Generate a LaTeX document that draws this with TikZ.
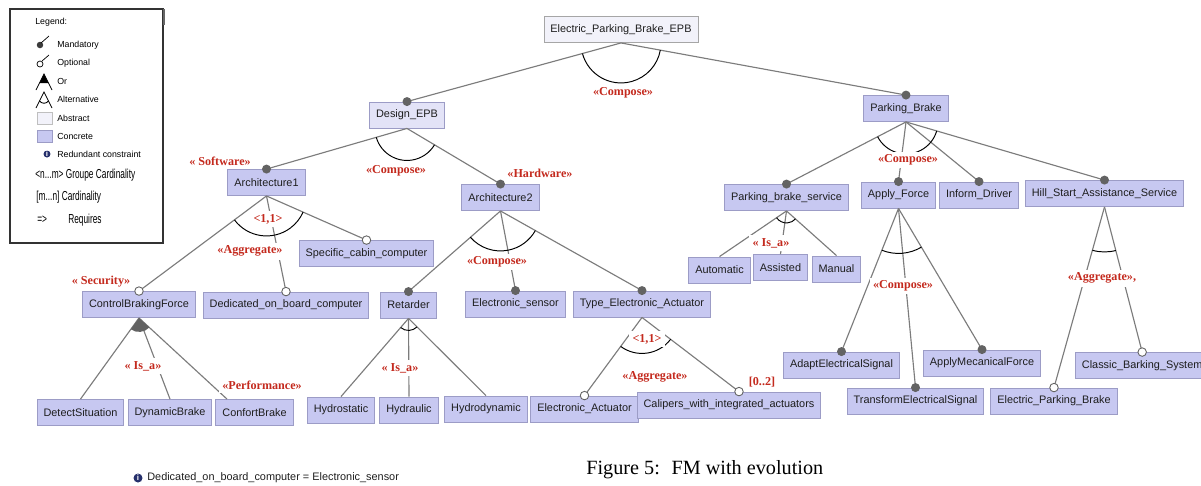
\documentclass[tikz,border=0pt]{standalone}
\usepackage{fontspec}
\setmainfont{Liberation Serif}
\newfontfamily\boxfont{Liberation Sans}
\newfontfamily\narrowfont[FakeStretch=0.64]{Liberation Sans}
\usetikzlibrary{angles}
\definecolor{fmconc}{HTML}{C7C8F1}
\definecolor{fmpale}{HTML}{F2F2FA}
\definecolor{fmlight}{HTML}{E3E3F7}
\definecolor{fmborder}{HTML}{9C9CC6}
\definecolor{fmgray}{HTML}{7C7C7C}
\definecolor{fmdot}{HTML}{636363}
\definecolor{fmred}{HTML}{C42A1E}
\definecolor{fmtext}{HTML}{1E1E1E}
\definecolor{fmnavy}{HTML}{26306C}
\tikzset{
  fmbox/.style    = {rectangle, draw=fmborder, fill=fmconc, line width=0.5pt,
                     minimum height=0.52cm, inner xsep=3.7pt, inner ysep=1pt,
                     font=\boxfont\fontsize{6.2}{7}\selectfont\color{fmtext}},
  fmabs/.style    = {fmbox, fill=fmpale, draw=gray!70},
  fmline/.style   = {draw=fmgray, line width=0.65pt},
  grparc/.style   = {draw=black, line width=0.55pt},
  mandot/.style   = {circle, fill=fmdot, inner sep=0pt, minimum size=0.18cm},
  optdot/.style   = {circle, draw=fmdot, fill=white, line width=0.5pt,
                     inner sep=0pt, minimum size=0.17cm},
  stereo/.style   = {fill=white, inner sep=1.8pt, text=fmred,
                     font=\bfseries\fontsize{6.9}{8}\selectfont},
  lgtext/.style   = {anchor=west, inner sep=0pt, font=\boxfont\fontsize{5}{6}\selectfont},
  lgnarrow/.style = {anchor=west, inner sep=0pt, font=\narrowfont\fontsize{7.4}{8}\selectfont},
  infoicon/.style = {circle, fill=fmnavy, text=white, inner sep=0pt,
                     font=\boxfont\bfseries\fontsize{4.5}{5}\selectfont},
}

\begin{document}
\begin{tikzpicture}[x=0.02cm, y=-0.02cm]
\useasboundingbox (0,0) rectangle (1201,485);

% Legend
\draw[line width=0.6pt, black!80] (10,9) rectangle (163,243);
\draw[line width=1.6pt, black!60] (164,9) -- (164,25);
\node[lgtext] (lgtitle) at (35,22) {Legend:};
\fill[fmdot!60!black] (40,45) circle[radius=0.065cm];
\draw[line width=0.4pt] (41,43) -- (49,36);
\draw[line width=0.4pt] (40,64) circle[radius=0.06cm];
\draw[line width=0.4pt] (42,61) -- (49,55);
\fill (44,74) -- (39.5,83) -- (48.5,83) -- cycle;
\draw[line width=0.5pt] (36,90) -- (44,74) -- (52,90);
\draw[line width=0.5pt] (36,108) -- (44,92) -- (52,108);
\draw[line width=0.5pt] (39.5,101) .. controls (42,104) and (46,104) .. (48.5,101);
\draw[fill=fmpale, draw=gray!50] (37,112) rectangle (52,124);
\draw[fill=fmconc, draw=fmborder] (37,130) rectangle (52,142);
\node[infoicon, minimum size=0.14cm] (lgicon) at (47,154) {i};
\node[lgtext] (lgmand) at (57,45) {Mandatory};
\node[lgtext] (lgopt) at (57,63) {Optional};
\node[lgtext] (lgor) at (57,81) {Or};
\node[lgtext] (lgalt) at (57,99) {Alternative};
\node[lgtext] (lgabs) at (57,118) {Abstract};
\node[lgtext] (lgconc) at (57,136) {Concrete};
\node[lgtext] (lgred) at (57,154) {Redundant constraint};
\node[lgnarrow] (lggrp) at (35,175) {<n...m> Groupe Cardinality};
\node[lgnarrow] (lgcard) at (36,197) {[m...n]\ Cardinality};
\node[lgnarrow] (lgimp) at (37,220) {=>};
\node[lgnarrow] (lgreq) at (68,220) {Requires};

% Feature boxes
\node[fmabs] (root) at (621,29.5) {Electric\_Parking\_Brake\_EPB};
\node[fmbox, fill=fmlight] (design) at (407,115) {Design\_EPB};
\node[fmbox] (pb) at (906,108.5) {Parking\_Brake};
\node[fmbox] (arch1) at (266.5,182.5) {Architecture1};
\node[fmbox] (arch2) at (500.5,197.5) {Architecture2};
\node[fmbox] (pbs) at (786.5,197.5) {Parking\_brake\_service};
\node[fmbox] (af) at (898.5,195) {Apply\_Force};
\node[fmbox] (id) at (979,195) {Inform\_Driver};
\node[fmbox] (hsas) at (1104.5,193.5) {Hill\_Start\_Assistance\_Service};
\node[fmbox] (scc) at (366.5,253.5) {Specific\_cabin\_computer};
\node[fmbox] (cbf) at (139,304.5) {ControlBrakingForce};
\node[fmbox] (dobc) at (286,305) {Dedicated\_on\_board\_computer};
\node[fmbox] (ret) at (408.5,305) {Retarder};
\node[fmbox] (es) at (515.5,304) {Electronic\_sensor};
\node[fmbox] (tea) at (642,304) {Type\_Electronic\_Actuator};
\node[fmbox] (auto) at (719.5,270) {Automatic};
\node[fmbox] (assist) at (780.5,267.5) {Assisted};
\node[fmbox] (manual) at (836.5,269) {Manual};
\node[fmbox] (aes) at (841.5,365) {AdaptElectricalSignal};
\node[fmbox] (amf) at (982,363) {ApplyMecanicalForce};
\node[fmbox] (tes) at (915.5,401) {TransformElectricalSignal};
\node[fmbox, anchor=west] (cbs) at (1075,365.5) {Classic\_Barking\_System};
\node[fmbox] (epbx) at (1054,401) {Electric\_Parking\_Brake};
\node[fmbox] (ds) at (80.5,412.5) {DetectSituation};
\node[fmbox] (db) at (170,412.5) {DynamicBrake};
\node[fmbox] (cb) at (254.5,412.5) {ConfortBrake};
\node[fmbox] (hs) at (341,410) {Hydrostatic};
\node[fmbox] (hyd) at (409,410) {Hydraulic};
\node[fmbox] (hdy) at (486,409) {Hydrodynamic};
\node[fmbox] (ea) at (584.5,409) {Electronic\_Actuator};
\node[fmbox] (cal) at (729,405) {Calipers\_with\_integrated\_actuators};

% End points of the connectors
\foreach \n in {root,design,pb,arch1,arch2,pbs,af,hsas,cbf,ret,tea,
                scc,dobc,es,id,auto,assist,manual,aes,amf,tes,cbs,epbx,
                ds,db,hs,hyd,hdy,ea} {
  \coordinate (n\n) at (\n.north);
  \coordinate (s\n) at (\n.south);
}
\coordinate (cbin) at ([xshift=-0.55cm]cb.north);
\coordinate (calin) at ([xshift=0.2cm]cal.north);

% Tree edges
\foreach \p/\c in {root/design, root/pb, design/arch1, design/arch2,
                   arch1/cbf, arch1/dobc, arch1/scc, arch2/ret, arch2/es, arch2/tea,
                   cbf/ds, cbf/db, ret/hs, ret/hyd, ret/hdy, tea/ea,
                   pb/pbs, pb/af, pb/id, pb/hsas, pbs/auto, pbs/assist, pbs/manual,
                   af/aes, af/tes, af/amf, hsas/epbx, hsas/cbs}
  \draw[fmline] (\p.south) -- (\c.north);
\draw[fmline] (cbf.south) -- (cbin);
\draw[fmline] (tea.south) -- (calin);

% Group arcs
\pic[grparc, angle radius=0.8cm]  {angle=ndesign--sroot--npb};
\pic[grparc, angle radius=0.64cm] {angle=narch1--sdesign--narch2};
\pic[grparc, angle radius=0.8cm]  {angle=ncbf--sarch1--nscc};
\pic[grparc, angle radius=0.8cm]  {angle=nret--sarch2--ntea};
\pic[fill=fmdot, angle radius=0.28cm] {angle=nds--scbf--cbin};
\pic[grparc, angle radius=0.24cm] {angle=nhs--sret--nhdy};
\pic[grparc, angle radius=0.72cm] {angle=nea--stea--calin};
\pic[grparc, angle radius=0.64cm] {angle=npbs--spb--nhsas};
\pic[grparc, angle radius=0.24cm] {angle=nauto--spbs--nmanual};
\pic[grparc, angle radius=0.9cm]  {angle=naes--saf--namf};
\pic[grparc, angle radius=0.9cm]  {angle=nepbx--shsas--ncbs};

% Stereotypes and cardinalities
\node[stereo] (cmproot) at (623,93) {«Compose»};
\node[stereo] (cmpdesign) at (396,171) {«Compose»};
\node[stereo] (sw) at (220,161) {« Software»};
\node[stereo] (hw) at (540,173) {«Hardware»};
\node[stereo] (cardarch) at (268,219) {<1,1>};
\node[stereo] (aggarch) at (250,251) {«Aggregate»};
\node[stereo] (sec) at (101,282) {« Security»};
\node[stereo] (cmparch) at (497,262) {«Compose»};
\node[stereo] (isacbf) at (143,366) {« Is\_a»};
\node[stereo] (perf) at (262,385) {«Performance»};
\node[stereo] (isaret) at (400,368) {« Is\_a»};
\node[stereo] (cardtea) at (647,339) {<1,1>};
\node[stereo] (aggtea) at (655,377) {«Aggregate»};
\node[stereo] (multcal) at (762,382) {[0..2]};
\node[stereo] (isapbs) at (771,243) {« Is\_a»};
\node[stereo] (cmppb) at (908,160) {«Compose»};
\node[stereo] (cmpaf) at (903,286) {«Compose»};
\node[stereo] (agghsas) at (1102,278) {«Aggregate»,};

% Mandatory and optional markers
\foreach \n in {design,pb,arch1,arch2,ret,es,tea,pbs,af,id,hsas,aes,amf,tes}
  \node[mandot] (\n-dot) at (\n.north) {};
\foreach \n in {scc,cbf,dobc,ea,cbs,epbx}
  \node[optdot] (\n-dot) at (\n.north) {};
\node[optdot] (cal-dot) at (calin) {};

% Constraint and caption
\node[infoicon, minimum size=0.18cm] (noteicon) at (138,478) {i};
\node[anchor=west, inner sep=0pt, font=\boxfont\fontsize{6.2}{7}\selectfont\color{fmtext}]
  (note) at (147,478) {Dedicated\_on\_board\_computer = Electronic\_sensor};
\node[anchor=base west, inner sep=0pt, font=\fontsize{11.5}{13}\selectfont]
  (cap) at (586,474) {Figure 5:~ FM with evolution};
\end{tikzpicture}
\end{document}
